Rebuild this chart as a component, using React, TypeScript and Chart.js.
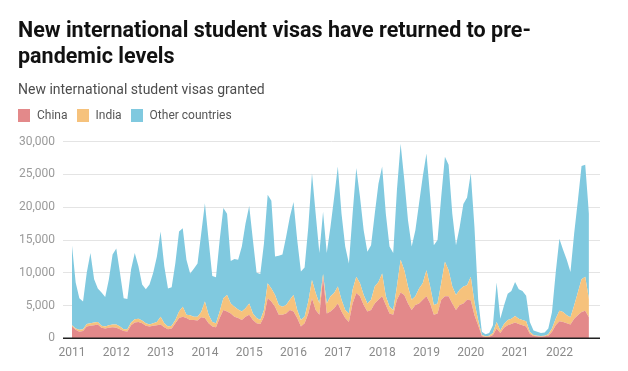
import React, { useEffect, useRef } from "react";
import { Chart, registerables } from "chart.js";

Chart.register(...registerables);

// Monthly data, Jan 2011 .. Sep 2022
const years = ["2011", "2012", "2013", "2014", "2015", "2016", "2017", "2018", "2019", "2020", "2021", "2022"];
const yTicks = [0, 5000, 10000, 15000, 20000, 25000, 30000];

const china = [
  1800, 1300, 1000, 1100, 1800, 1900, 2000, 2100, 1600, 1500, 1600, 1700,
  1600, 1400, 1100, 1050, 2000, 2400, 2500, 2300, 1900, 1800, 1900, 2000,
  2100, 1700, 1400, 1500, 2300, 3100, 3300, 3100, 2800, 2800, 2700, 3200,
  3100, 2300, 1800, 1700, 3100, 4300, 4100, 3800, 3300, 3100, 2800, 3300,
  3600, 2800, 2300, 2200, 3300, 6100, 5600, 4800, 3600, 3600, 3800, 4300,
  4100, 3100, 1800, 2300, 3800, 6100, 4300, 3600, 9300, 3800, 4100, 4600,
  5300, 4100, 3100, 2500, 5300, 6900, 6400, 5100, 4100, 4300, 5300, 5900,
  6400, 5100, 3800, 3600, 5900, 7000, 6600, 5300, 4300, 5100, 5300, 5900,
  6400, 5300, 3600, 3800, 5900, 6400, 6400, 5300, 4300, 5100, 5300, 5900,
  5800, 3500, 2000, 350, 200, 250, 500, 1500, 800, 1600, 2000, 2200,
  2400, 2200, 2000, 1800, 700, 350, 300, 250, 300, 400, 1000, 2000,
  2600, 2500, 2300, 2100, 3000, 3500, 4000, 4200, 3200,
];

const india = [
  200, 200, 300, 300, 400, 400, 400, 400, 300, 300, 400, 400,
  500, 400, 300, 350, 400, 500, 500, 400, 400, 300, 400, 500,
  1200, 600, 400, 400, 500, 1000, 1500, 500, 700, 500, 600, 800,
  2500, 1300, 700, 600, 1000, 1800, 2500, 1500, 1500, 1300, 1300, 1300,
  1700, 1000, 800, 600, 1000, 2300, 2000, 1800, 1500, 1200, 1300, 1600,
  2500, 1200, 1000, 1000, 1800, 2800, 2600, 1700, 500, 1500, 2300, 2300,
  2600, 1800, 1200, 1300, 2100, 2500, 2000, 1500, 1200, 1600, 2600, 2700,
  3500, 1300, 1000, 700, 2000, 5000, 3800, 2600, 1600, 1300, 2300, 2500,
  4000, 2600, 1500, 1500, 2500, 5300, 4000, 2600, 2300, 2300, 2600, 2200,
  3600, 2000, 800, 150, 100, 150, 300, 1000, 400, 600, 800, 800,
  1000, 800, 800, 800, 300, 150, 100, 100, 100, 200, 500, 1000,
  1600, 1500, 1200, 1100, 2000, 3500, 5000, 5200, 2800,
];

const other = [
  12200, 7000, 4800, 4200, 7800, 10700, 6600, 5100, 5100, 4500, 7000, 10700,
  11600, 8200, 4700, 4600, 8100, 10100, 8000, 5500, 5200, 6100, 7700, 10000,
  13000, 8700, 5800, 5900, 8700, 12200, 12000, 8400, 6400, 7300, 8100, 12000,
  15000, 11400, 7000, 7000, 10900, 13800, 12400, 6500, 7300, 7600, 9900, 12900,
  14900, 11200, 6900, 7000, 10200, 13500, 13400, 5900, 7500, 8000, 10400, 12600,
  14200, 10700, 7400, 7500, 11400, 16300, 12100, 7700, 9500, 7700, 10600, 14600,
  18300, 13100, 9700, 7600, 11600, 16600, 13200, 9900, 7900, 8300, 11100, 15000,
  16300, 12600, 9200, 8700, 14700, 17700, 13800, 10100, 8100, 10100, 13000, 16300,
  17800, 13700, 9100, 9700, 13200, 16000, 16100, 11100, 7600, 9600, 12600, 13400,
  15800, 11500, 3200, 500, 300, 400, 1200, 6000, 1800, 2800, 4000, 4200,
  5200, 4500, 4400, 3900, 1500, 700, 600, 450, 500, 900, 2500, 7000,
  11000, 9500, 8500, 6900, 11000, 14000, 17300, 17100, 13000,
];

const seriesNames = ["China", "India", "Other countries"];
const seriesColors = ["#e3898a", "#f6c27c", "#80c9df"];

const zeroLinePlugin = {
  id: "zeroLine",
  afterDatasetsDraw(chart: any) {
    const { ctx, chartArea, scales } = chart;
    const y = scales.y.getPixelForValue(0);
    ctx.save();
    ctx.strokeStyle = "#222";
    ctx.lineWidth = 1.5;
    ctx.beginPath();
    ctx.moveTo(chartArea.left, y);
    ctx.lineTo(chartArea.right, y);
    ctx.stroke();
    ctx.restore();
  },
};

export default function App() {
  const canvasRef = useRef<HTMLCanvasElement | null>(null);

  useEffect(() => {
    const canvas = canvasRef.current;
    if (!canvas) return;
    Chart.defaults.font.family = "Roboto";
    const toPoints = (arr: number[]) => arr.map((v, i) => ({ x: i, y: v }));
    const data = [china, india, other];
    const chart = new Chart(canvas, {
      type: "line",
      data: {
        datasets: data.map((arr, k) => ({
          label: seriesNames[k],
          data: toPoints(arr),
          backgroundColor: seriesColors[k],
          borderColor: seriesColors[k],
          borderWidth: 0,
          pointRadius: 0,
          tension: 0,
          fill: k === 0 ? "origin" : "-1",
        })),
      },
      options: {
        animation: false,
        responsive: false,
        devicePixelRatio: 1,
        layout: { padding: { top: 141.7, right: 28, left: 0, bottom: 0 } },
        plugins: { legend: { display: false }, tooltip: { enabled: false } },
        scales: {
          x: {
            type: "linear",
            min: -2.43,
            max: 143,
            grid: { display: false, drawTicks: false },
            border: { display: false },
            afterBuildTicks: (s: any) => {
              s.ticks = years.map((_, i) => ({ value: i * 12 }));
            },
            afterFit: (s: any) => {
              s.height = 371 - 338.3;
            },
            ticks: {
              autoSkip: false,
              maxRotation: 0,
              padding: 7,
              color: "#8a8a8a",
              font: { size: 12 },
              callback: (v: any) => years[Math.round(Number(v) / 12)] ?? "",
            },
          },
          y: {
            stacked: true,
            min: 0,
            max: 30000,
            grid: { color: "#e4e4e4", lineWidth: 1, drawTicks: false },
            border: { display: false },
            afterBuildTicks: (s: any) => {
              s.ticks = yTicks.map((v) => ({ value: v }));
            },
            afterFit: (s: any) => {
              s.width = 63;
            },
            ticks: {
              padding: 8,
              color: "#9a9a9a",
              font: { size: 12 },
              callback: (v: any) => Number(v).toLocaleString("en-US"),
            },
          },
        },
      },
      plugins: [zeroLinePlugin],
    } as any);
    return () => chart.destroy();
  }, []);

  const textBase: React.CSSProperties = {
    position: "absolute",
    left: 18,
    fontFamily: "Roboto",
    whiteSpace: "nowrap",
  };

  return (
    <div style={{ position: "fixed", left: 0, top: 0, width: 628, height: 371, background: "#fff", overflow: "hidden" }}>
      <canvas ref={canvasRef} width={628} height={371} style={{ position: "absolute", left: 0, top: 0, width: 628, height: 371 }} />
      <div style={{ ...textBase, top: 17, fontSize: 21.5, fontWeight: 700, lineHeight: "26px", color: "#111" }}>
        <div>New international student visas have returned to pre-</div>
        <div>pandemic levels</div>
      </div>
      <div style={{ ...textBase, top: 80, fontSize: 14, lineHeight: "18px", color: "#4d4d4d" }}>
        New international student visas granted
      </div>
      <div style={{ ...textBase, top: 108, height: 14, display: "flex", alignItems: "center", fontSize: 12, color: "#555" }}>
        {seriesNames.map((n, i) => (
          <span key={n} style={{ display: "inline-flex", alignItems: "center", marginRight: 9 }}>
            <span style={{ display: "inline-block", width: 12, height: 13, background: seriesColors[i], marginRight: 7 }} />
            {n}
          </span>
        ))}
      </div>
    </div>
  );
}
